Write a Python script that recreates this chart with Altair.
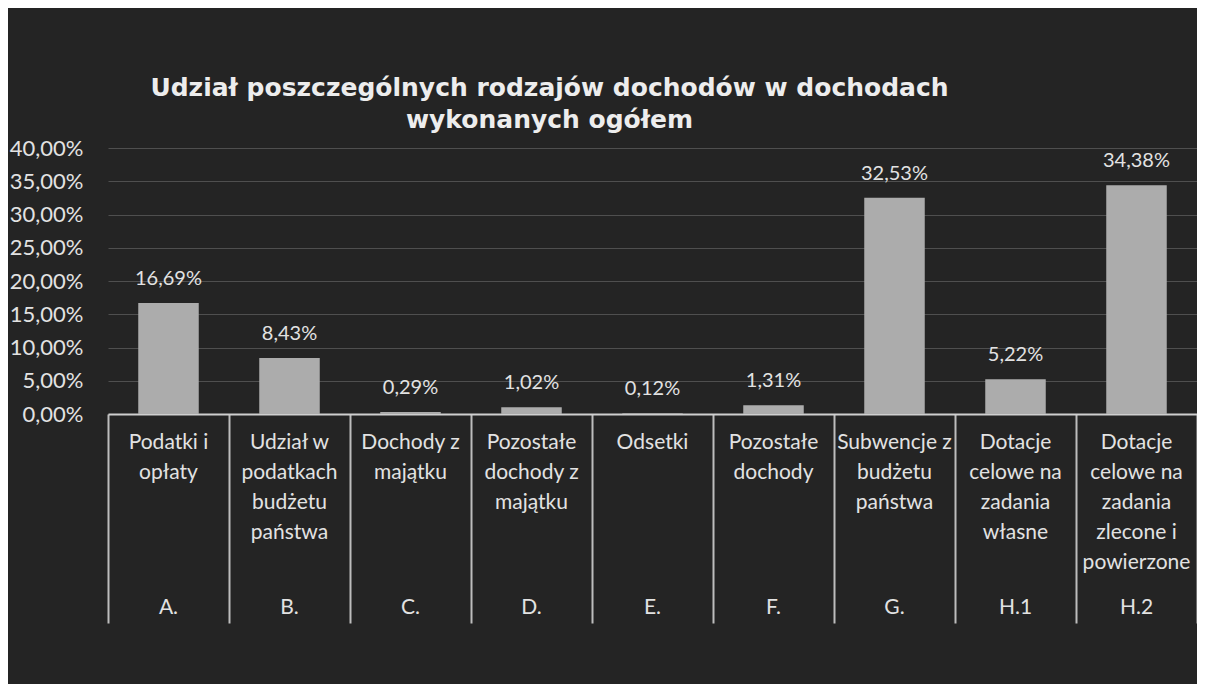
import altair as alt
import pandas as pd

codes = ["A.", "B.", "C.", "D.", "E.", "F.", "G.", "H.1", "H.2"]
labels = [
    "Podatki i\nopłaty",
    "Udział w\npodatkach\nbudżetu\npaństwa",
    "Dochody z\nmajątku",
    "Pozostałe\ndochody z\nmajątku",
    "Odsetki",
    "Pozostałe\ndochody",
    "Subwencje z\nbudżetu\npaństwa",
    "Dotacje\ncelowe na\nzadania\nwłasne",
    "Dotacje\ncelowe na\nzadania\nzlecone i\npowierzone",
]
values = [16.69, 8.43, 0.29, 1.02, 0.12, 1.31, 32.53, 5.22, 34.38]
y_ticks = [0, 5, 10, 15, 20, 25, 30, 35, 40]
title_lines = ["Udział poszczególnych rodzajów dochodów w dochodach", "wykonanych ogółem"]

df = pd.DataFrame({"code": codes, "label": labels, "value": values})

W = 1089
H = 266
FONT = "Lato"
TXT = "#e2e2e2"

x_enc = alt.X(
    "code:N",
    sort=None,
    scale=alt.Scale(paddingInner=0, paddingOuter=0),
    axis=alt.Axis(
        title=None,
        labels=False,
        domain=True,
        domainColor="#cfcfcf",
        domainWidth=2,
        ticks=True,
        tickBand="extent",
        tickSize=209,
        tickColor="#bdbdbd",
        tickWidth=2,
        grid=False,
    ),
)

y_enc = alt.Y(
    "value:Q",
    scale=alt.Scale(domain=[0, 40], nice=False),
    axis=alt.Axis(
        title=None,
        values=y_ticks,
        labelExpr="replace(format(datum.value, '.2f'), '.', ',') + '%'",
        labelOverlap=False,
        domain=False,
        ticks=False,
        grid=True,
        gridColor="#4f4f4f",
        gridWidth=1,
        labelColor=TXT,
        labelFont=FONT,
        labelFontSize=22,
        labelPadding=25,
    ),
)

base = alt.Chart(df)

bars = base.mark_bar(width=alt.RelativeBandSize(0.5), color="#acacac").encode(x=x_enc, y=y_enc)

vals = (
    base.transform_calculate(vlabel="replace(format(datum.value, '.2f'), '.', ',') + '%'")
    .mark_text(dy=-24, fontSize=20, color=TXT, font=FONT, baseline="middle")
    .encode(x=x_enc, y=y_enc, text="vlabel:N")
)

cats = base.mark_text(
    baseline="top", lineBreak="\n", lineHeight=30, fontSize=21, color=TXT, font=FONT
).encode(x=x_enc, y=alt.value(H + 18), text="label:N")

grp = base.mark_text(baseline="middle", fontSize=21, color=TXT, font=FONT).encode(
    x=x_enc, y=alt.value(H + 194), text="code:N"
)

chart = (
    alt.layer(bars, vals, cats, grp)
    .properties(
        width=W,
        height=H,
        padding={"left": 100, "top": 140, "right": 0, "bottom": 270},
        autosize=alt.AutoSizeParams(type="none"),
        background="#242424",
        title=alt.TitleParams(
            text=title_lines,
            anchor="middle",
            frame="group",
            dx=-103,
            offset=4,
            font="DejaVu Sans",
            fontSize=25,
            fontWeight="bold",
            color="#ededed",
            lineHeight=32,
        ),
    )
    .configure_view(stroke=None)
)

chart.save("out.html", embed_options={"renderer": "svg", "actions": False})
